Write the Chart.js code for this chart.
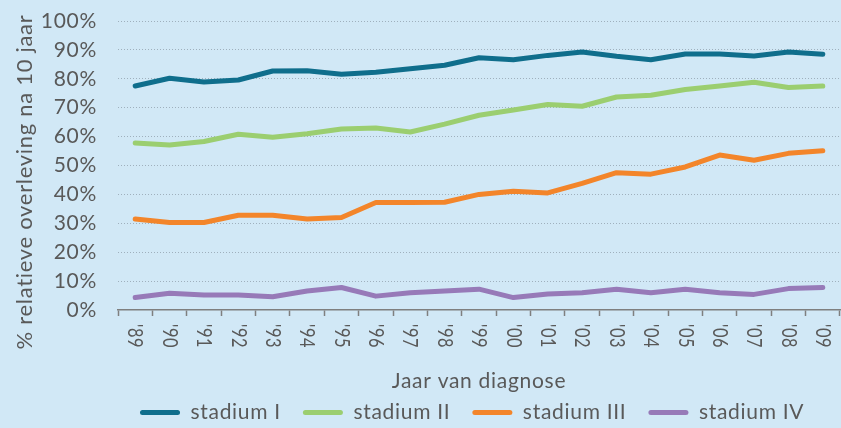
<!DOCTYPE html>
<html>
<head>
<meta charset="utf-8">
<script src="https://cdn.jsdelivr.net/npm/chart.js@4.4.0/dist/chart.umd.min.js"></script>
<style>
  html, body { margin: 0; padding: 0; background: #d1e8f6; }
  #wrap { width: 841px; height: 428px; }
</style>
</head>
<body>
<div id="wrap"><canvas id="chart"></canvas></div>
<script>
// Data (relative 10-year survival, %)
const years = ["'89", "'90", "'91", "'92", "'93", "'94", "'95", "'96", "'97", "'98", "'99",
               "'00", "'01", "'02", "'03", "'04", "'05", "'06", "'07", "'08", "'09"];
const stadiumI   = [77.5, 80.2, 78.9, 79.6, 82.7, 82.8, 81.6, 82.3, 83.5, 84.7, 87.3,
                    86.6, 88.1, 89.3, 87.8, 86.6, 88.6, 88.6, 87.9, 89.3, 88.5];
const stadiumII  = [57.8, 57.1, 58.3, 60.8, 59.8, 61.0, 62.6, 63.0, 61.6, 64.3, 67.4,
                    69.2, 71.1, 70.5, 73.7, 74.3, 76.3, 77.5, 78.8, 77.0, 77.5];
const stadiumIII = [31.5, 30.3, 30.3, 32.8, 32.8, 31.5, 32.0, 37.2, 37.2, 37.3, 40.0,
                    41.1, 40.5, 43.8, 47.5, 47.0, 49.5, 53.6, 51.8, 54.2, 55.1];
const stadiumIV  = [4.3, 5.8, 5.2, 5.2, 4.6, 6.6, 7.8, 4.8, 6.0, 6.6, 7.2,
                    4.3, 5.5, 6.0, 7.2, 6.0, 7.2, 6.0, 5.4, 7.4, 7.8];
const seriesNames = ['stadium I', 'stadium II', 'stadium III', 'stadium IV'];
const yTicks = [0, 10, 20, 30, 40, 50, 60, 70, 80, 90, 100];
const yTitle = '% relatieve overleving na 10 jaar';

const textColor = '#595959';
const colors = ['#0f6e8c', '#9bce70', '#f3852a', '#977ab8'];
const fontFamily = 'Lato, "Noto Sans", sans-serif';
const spacing = '0.7px'; // the original font runs wider than Lato

// letter spacing gets reset whenever the canvas is resized, so set it each pass
const spacingPlugin = {
    id: 'spacing',
    beforeLayout(chart) { chart.ctx.letterSpacing = spacing; },
    beforeDraw(chart) { chart.ctx.letterSpacing = spacing; }
};

// x labels run top-to-bottom and the y title sits a bit low, so both are drawn here
const labelPlugin = {
    id: 'labels',
    afterDraw(chart) {
        const xs = chart.scales.x;
        const ctx = chart.ctx;
        ctx.save();
        ctx.fillStyle = textColor;
        ctx.font = '21px ' + fontFamily;
        ctx.textAlign = 'left';
        ctx.textBaseline = 'middle';
        years.forEach((lab, i) => {
            const x = xs.getPixelForTick(i);
            ctx.save();
            ctx.translate(x, xs.top + 14);
            ctx.rotate(Math.PI / 2);
            ctx.scale(0.78, 1);
            ctx.fillText(lab, 0, 0);
            ctx.restore();
        });

        ctx.font = '22px ' + fontFamily;
        ctx.textAlign = 'center';
        ctx.translate(25, 182);
        ctx.rotate(-Math.PI / 2);
        ctx.fillText(yTitle, 0, 0);
        ctx.restore();
    }
};

const allSeries = [stadiumI, stadiumII, stadiumIII, stadiumIV];

new Chart(document.getElementById('chart'), {
    type: 'line',
    data: {
        labels: years,
        datasets: allSeries.map((vals, i) => ({
            label: seriesNames[i],
            data: vals,
            borderColor: colors[i],
            backgroundColor: colors[i],
            borderWidth: 5,
            borderCapStyle: 'round',
            borderJoinStyle: 'round',
            pointRadius: 0,
            tension: 0,
            fill: false
        }))
    },
    options: {
        responsive: true,
        maintainAspectRatio: false,
        animation: false,
        layout: {
            padding: { top: 21, right: 1, left: 0, bottom: -5 }
        },
        plugins: {
            tooltip: { enabled: false },
            legend: {
                position: 'bottom',
                align: 'start',
                fullSize: false,
                labels: {
                    boxWidth: 40,
                    boxHeight: 5,
                    padding: 22,
                    color: textColor,
                    useBorderRadius: true,
                    borderRadius: 2.5,
                    font: { family: fontFamily, size: 21 },
                    generateLabels(chart) {
                        return chart.data.datasets.map((ds, i) => ({
                            text: ds.label,
                            fillStyle: ds.borderColor,
                            strokeStyle: ds.borderColor,
                            lineWidth: 0,
                            borderRadius: 2.5,
                            fontColor: textColor,
                            hidden: false,
                            datasetIndex: i
                        }));
                    }
                }
            }
        },
        scales: {
            x: {
                offset: true,
                grid: {
                    offset: true,
                    drawOnChartArea: false,
                    drawTicks: true,
                    tickLength: 6,
                    tickColor: '#7f7f7f',
                    tickWidth: 1.5
                },
                border: { display: true, color: '#7f7f7f', width: 1.5 },
                ticks: { display: false },
                title: {
                    display: true,
                    text: 'Jaar van diagnose',
                    color: textColor,
                    font: { family: fontFamily, size: 21 },
                    padding: { top: 0, bottom: -14 }
                },
                afterFit(scale) { scale.height = 70; }
            },
            y: {
                min: 0,
                max: 100,
                afterBuildTicks(scale) {
                    scale.ticks = yTicks.map(v => ({ value: v }));
                },
                grid: {
                    drawTicks: false,
                    lineWidth: 1,
                    color: ctx => ctx.tick && ctx.tick.value === 0 ? 'rgba(0,0,0,0)' : '#9fb0bd'
                },
                border: { display: false, dash: [1, 2] },
                ticks: {
                    autoSkip: false,
                    padding: 21,
                    color: textColor,
                    font: { family: fontFamily, size: 21 },
                    callback: v => v + '%'
                },
                title: { display: false },
                afterFit(scale) {
                    scale.width = 118;
                    scale.paddingTop = 0;
                    scale.paddingBottom = 0;
                }
            }
        }
    },
    plugins: [spacingPlugin, labelPlugin]
});
</script>
</body>
</html>
